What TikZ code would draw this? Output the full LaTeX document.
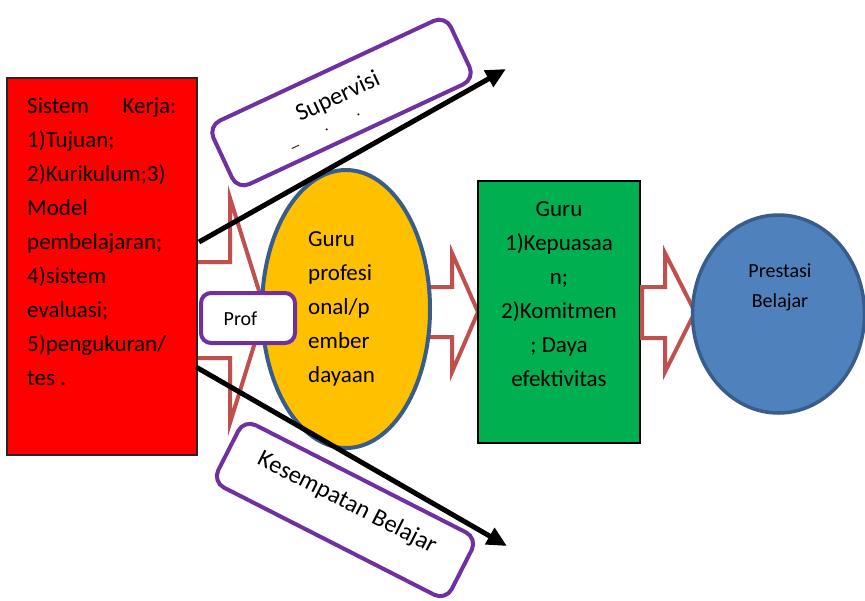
\documentclass[tikz,border=0pt]{standalone}
\usepackage{fontspec}
\setmainfont{Carlito}
\usetikzlibrary{arrows.meta,shapes.geometric}

\begin{document}
\begin{tikzpicture}[x=1pt,y=-1pt,
    bodytext/.style={font=\fontsize{23}{34}\selectfont, inner sep=0pt},
    smalltext/.style={font=\fontsize{20}{30}\selectfont, inner sep=0pt},
    tiltedtext/.style={font=\fontsize{24.5}{30}\selectfont, inner sep=0pt},
    purplebox/.style={draw=boxpurple, line width=4pt, rounded corners=13pt, fill=white, inner sep=0pt},
    blockarrow/.style={draw=arrowred, line width=4pt, fill=white, line join=miter},
    longarrow/.style={-{Triangle[length=20pt,width=18pt]}, line width=5pt}]
    \definecolor{arrowred}{RGB}{192,80,77}
    \definecolor{boxpurple}{RGB}{112,48,160}
    \definecolor{guruyellow}{RGB}{255,192,0}
    \definecolor{ellipseblue}{RGB}{56,93,138}
    \definecolor{gurugreen}{RGB}{0,176,80}
    \definecolor{prestasiblue}{RGB}{79,129,189}
    \useasboundingbox (0,0) rectangle (865,600);

    % block arrow out of the red box
    \draw[blockarrow] (190,262) -- (230,262) -- (230,198) -- (265,310) -- (230,423) -- (230,358) -- (190,358) -- cycle;

    \node[draw=black!85, line width=1.5pt, fill=red, minimum width=190pt, minimum height=377pt, inner sep=0pt] (sistem) at (102,266.5) {};
    \node[bodytext, anchor=north west, align=left] (sistemtxt) at (27,97) {\makebox[149pt][s]{Sistem\hfill Kerja:}\\1)Tujuan;\\2)Kurikulum;3)\\Model\\pembelajaran;\\4)sistem\\evaluasi;\\5)pengukuran/\\tes .};

    \draw[blockarrow] (415,287) -- (452,287) -- (452,253) -- (478,312) -- (452,372) -- (452,337) -- (415,337) -- cycle;

    \node[draw=ellipseblue, line width=4pt, fill=guruyellow, ellipse, minimum width=168pt, minimum height=278pt, inner sep=0pt] (gurupro) at (346,309) {};
    \node[bodytext, anchor=north west, align=left] (guruprotxt) at (308,231) {Guru\\profesi\\onal/p\\ember\\dayaan};

    \node[draw=black, line width=1.5pt, fill=gurugreen, minimum width=162pt, minimum height=262pt, inner sep=0pt] (gurukom) at (559,312) {};
    \node[bodytext, anchor=north, align=center] (gurukomtxt) at (559,201) {Guru\\1)Kepuasaa\\n;\\2)Komitmen\\; Daya\\efektivitas};

    \draw[blockarrow] (642,287) -- (665,287) -- (665,253) -- (695,312) -- (665,372) -- (665,338) -- (642,338) -- cycle;

    \node[draw=ellipseblue, line width=3.5pt, fill=prestasiblue, ellipse, minimum width=172pt, minimum height=198pt, inner sep=0pt] (prestasi) at (778.5,314) {};
    \node[smalltext, anchor=north, align=center] (prestasitxt) at (780,264) {Prestasi\\Belajar};

    % rounded label boxes
    \node[purplebox, minimum width=94pt, minimum height=50pt, rounded corners=10pt] (prof) at (248,318) {};
    \node[smalltext] (proftxt) at (240.5,319) {Prof};

    \node[purplebox, rotate=25, minimum width=262pt, minimum height=70pt] (supervisi) at (341.5,102.5) {};
    \node[tiltedtext, rotate=25] (supervisitxt) at (338,97) {Supervisi};
    \node[font=\fontsize{16}{16}\selectfont, inner sep=0pt, rotate=25] (supmarks) at (326,131) {\_\hspace{30pt}.\hspace{31pt}.};

    \node[purplebox, rotate=-27, minimum width=262pt, minimum height=70pt] (kesempatan) at (345,510) {};
    \node[tiltedtext, rotate=-27] (kesempatantxt) at (347,503) {Kesempatan Belajar};

    % long black arrows
    \coordinate (supstart) at (199,242);
    \coordinate (supend) at (506,69);
    \coordinate (kesstart) at (196,367);
    \coordinate (kesend) at (507,546);
    \draw[longarrow] (supstart) -- (supend);
    \draw[longarrow] (kesstart) -- (kesend);
\end{tikzpicture}
\end{document}
